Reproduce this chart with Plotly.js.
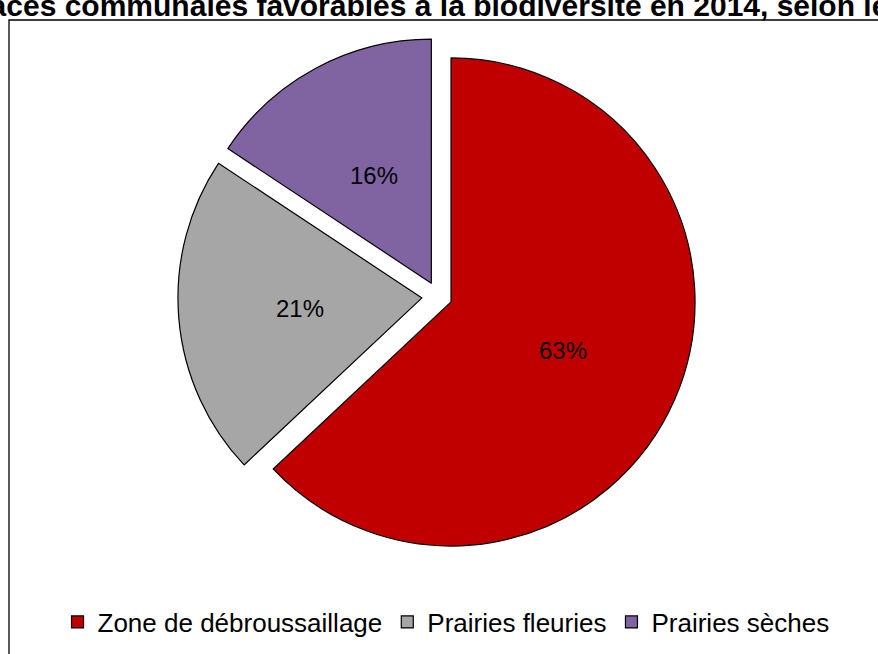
<!DOCTYPE html>
<html>
<head>
<meta charset="utf-8">
<script src="https://cdn.plot.ly/plotly-3.0.1.min.js"></script>
<style>html,body{margin:0;padding:0;background:#fff;}#chart{width:878px;height:654px;}</style>
</head>
<body>
<div id="chart"></div>
<script>
const labels = ["Zone de débroussaillage", "Prairies fleuries", "Prairies sèches"];
const values = [63, 21.3, 15.7];
const pulls = [0.056, 0.068, 0.062];
const colors = ["#C00000", "#A6A6A6", "#8064A2"];
const titleText = "aces communales favorables à la biodiversité en 2014, selon le";

const W = 878, H = 654;
const FONT = "Arial, 'Liberation Sans', sans-serif";

// pie domain in pixels
const dx0 = 177.9, dx1 = 699.1, dy0 = 35.9, dy1 = 557.1;
const domain = {x: [dx0 / W, dx1 / W], y: [1 - dy1 / H, 1 - dy0 / H]};

// percent labels placed through the pie geometry (same maths as the library)
const total = values.reduce((a, b) => a + b, 0);
const maxPull = Math.max(...pulls);
const cx = (dx0 + dx1) / 2, cy = (dy0 + dy1) / 2;
const r = Math.min(dx1 - dx0, dy1 - dy0) / (2 * (1 + maxPull));
const annotations = [];
let cum = 0;
values.forEach((v, i) => {
  const mid = 2 * Math.PI * (cum + v / 2) / total;
  cum += v;
  const d = (pulls[i] + 0.5) * r;
  const px = cx + Math.sin(mid) * d;
  const py = cy - Math.cos(mid) * d;
  annotations.push({
    xref: "paper", yref: "paper", x: px / W, y: 1 - py / H,
    xanchor: "center", yanchor: "middle", showarrow: false,
    text: Math.round(100 * v / total) + "%",
    font: {family: FONT, size: 24, color: "#000000"}
  });
});

const data = [{
  type: "pie",
  labels: labels,
  values: values,
  sort: false,
  direction: "clockwise",
  rotation: 0,
  pull: pulls,
  marker: {colors: colors, line: {color: "#000000", width: 1.2}},
  textinfo: "none",
  hoverinfo: "none",
  domain: domain
}];

const layout = {
  width: W, height: H,
  margin: {l: 0, r: 0, t: 0, b: 0},
  paper_bgcolor: "#ffffff",
  font: {family: FONT, color: "#000000"},
  title: {
    text: "<b>" + titleText + "</b>",
    font: {size: 30, color: "#000000", family: FONT},
    x: 0.5, xanchor: "center", xref: "container",
    y: 1 - 5 / H, yanchor: "middle", yref: "container"
  },
  showlegend: true,
  legend: {
    orientation: "h",
    x: 0.508, xanchor: "center",
    y: 1 - 622 / H, yanchor: "middle",
    font: {size: 26, color: "#000000", family: FONT},
    traceorder: "normal"
  },
  annotations: annotations,
  shapes: [{
    type: "rect", xref: "paper", yref: "paper",
    x0: 9 / W, x1: 1.05, y0: -0.05, y1: 1 - 20 / H,
    line: {color: "#000000", width: 1.3}, fillcolor: "rgba(0,0,0,0)", layer: "below"
  }]
};

Plotly.newPlot("chart", data, layout, {staticPlot: true, displayModeBar: false});
</script>
</body>
</html>
